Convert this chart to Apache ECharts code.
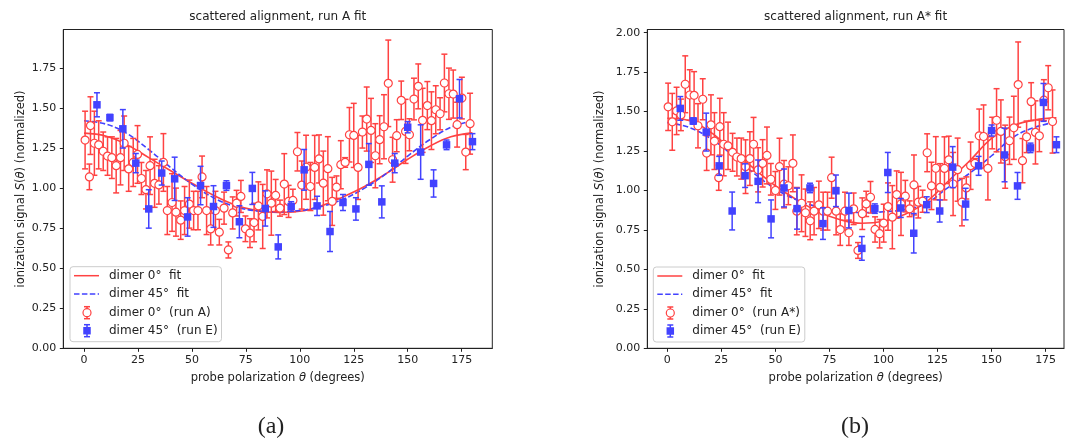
<!DOCTYPE html>
<html>
<head>
<meta charset="utf-8">
<script src="https://cdn.jsdelivr.net/npm/echarts@6/dist/echarts.min.js"></script>
<style>
  html, body { margin: 0; padding: 0; background: #ffffff; }
  #chart { width: 1065px; height: 444px; }
</style>
</head>
<body>
<div id="chart"></div>
<script>
// ---------------- data ----------------
const xTicks = [0, 25, 50, 75, 100, 125, 150, 175];
const yTicksA = [0, 0.25, 0.5, 0.75, 1.0, 1.25, 1.5, 1.75];
const yTicksB = [0, 0.25, 0.5, 0.75, 1.0, 1.25, 1.5, 1.75, 2.0];

// dimer 0 deg, run A
const runA_theta = [0.5, 2.5, 3.0, 4.8, 6.8, 8.9, 10.9, 12.9, 14.9, 16.9, 18.6, 20.7, 22.8, 24.8, 26.6, 28.7,
  30.6, 32.7, 34.7, 36.8, 38.6, 40.8, 42.6, 44.8, 46.6, 48.8, 50.8, 52.8, 54.7, 56.8, 58.7, 60.9, 62.7, 64.9,
  66.9, 68.9, 70.7, 72.7, 74.8, 76.9, 78.8, 80.8, 82.8, 84.8, 86.8, 88.8, 90.8, 92.8, 94.8, 96.8, 98.9, 100.9,
  102.9, 104.9, 106.9, 108.9, 110.9, 113.0, 115.0, 117.0, 119.0, 121.0, 123.0, 125.0, 127.0, 129.0, 131.0,
  133.0, 135.0, 137.0, 139.0, 141.0, 143.0, 144.9, 147.0, 149.0, 150.8, 152.9, 154.9, 156.9, 159.1, 161.0,
  163.0, 165.0, 167.0, 169.1, 171.1, 172.9, 175.1, 176.9, 178.9];
const runA_signal = [1.30, 1.07, 1.39, 1.28, 1.27, 1.23, 1.20, 1.19, 1.14, 1.19, 1.28, 1.12, 1.16, 1.21, 1.06, 0.99,
  1.14, 1.03, 1.02, 1.16, 0.86, 0.91, 0.85, 0.80, 0.86, 0.90, 0.86, 0.86, 1.07, 0.86, 0.745, 0.86, 0.725, 0.875,
  0.614, 0.845, 0.906, 0.948, 0.746, 0.719, 0.785, 0.889, 0.823, 0.964, 0.906, 0.954, 0.875, 1.025, 0.917, 0.923, 1.227, 1.019,
  1.13, 1.010, 1.129, 1.182, 1.031, 1.121, 0.917, 1.006, 1.146, 1.160, 1.333, 1.329, 1.129, 1.350, 1.431,
  1.360, 1.202, 1.302, 1.383, 1.654, 1.177, 1.327, 1.548, 1.354, 1.333, 1.556, 1.635, 1.423, 1.515, 1.421,
  1.489, 1.464, 1.656, 1.589, 1.587, 1.396, 1.562, 1.225, 1.402];
const runA_err = [0.18, 0.08, 0.18, 0.20, 0.15, 0.12, 0.12, 0.13, 0.17, 0.17, 0.17, 0.14, 0.15, 0.18, 0.10, 0.12,
  0.18, 0.15, 0.12, 0.18, 0.15, 0.18, 0.15, 0.12, 0.15, 0.15, 0.12, 0.12, 0.13, 0.15, 0.10, 0.12, 0.08, 0.10,
  0.05, 0.10, 0.08, 0.10, 0.08, 0.09, 0.12, 0.15, 0.20, 0.15, 0.20, 0.10, 0.05, 0.19, 0.10, 0.07, 0.12, 0.15,
  0.20, 0.15, 0.20, 0.15, 0.20, 0.20, 0.15, 0.07, 0.15, 0.03, 0.17, 0.20, 0.20, 0.10, 0.20,
  0.20, 0.20, 0.15, 0.20, 0.27, 0.14, 0.10, 0.12, 0.20, 0.10, 0.13, 0.14, 0.20, 0.15, 0.18,
  0.15, 0.10, 0.18, 0.16, 0.15, 0.14, 0.13, 0.11, 0.19];

// dimer 0 deg, run A*
const runAs_theta = [21.8, 23.8, 24.3, 26.1, 28.1, 30.2, 32.2, 34.2, 36.2, 38.2, 39.9, 42.0, 44.1, 46.1, 47.9, 50.0,
  51.9, 54.0, 56.0, 58.1, 59.9, 62.1, 63.9, 66.1, 67.9, 70.1, 72.1, 74.1, 76.0, 78.1, 80.0, 82.2, 84.0, 86.2,
  88.2, 90.2, 92.0, 94.0, 96.1, 98.2, 100.1, 102.1, 104.1, 106.1, 108.1, 110.1, 112.1, 114.1, 116.1, 118.1, 120.2, 122.2,
  124.2, 126.2, 128.2, 130.2, 132.2, 134.3, 136.3, 138.3, 140.3, 142.3, 144.3, 146.3, 148.3, 150.3, 152.3,
  154.3, 156.3, 158.3, 160.3, 162.3, 164.3, 166.2, 168.3, 170.3, 172.1, 174.2, 176.2, 178.2, 0.4, 2.3,
  4.3, 6.3, 8.3, 10.4, 12.4, 14.2, 16.4, 18.2, 20.2];
const runAs_signal = [1.313, 1.081, 1.404, 1.293, 1.283, 1.242, 1.212, 1.202, 1.151, 1.202, 1.293, 1.131, 1.172, 1.222, 1.071, 1.000,
  1.151, 1.040, 1.030, 1.172, 0.869, 0.919, 0.859, 0.808, 0.869, 0.909, 0.869, 0.869, 1.081, 0.869, 0.752, 0.869, 0.732, 0.884,
  0.620, 0.853, 0.915, 0.957, 0.753, 0.726, 0.793, 0.898, 0.831, 0.974, 0.915, 0.964, 0.884, 1.035, 0.926, 0.932, 1.239, 1.029,
  1.141, 1.020, 1.140, 1.194, 1.041, 1.132, 0.926, 1.016, 1.157, 1.172, 1.346, 1.342, 1.140, 1.364, 1.445,
  1.374, 1.214, 1.315, 1.397, 1.671, 1.189, 1.340, 1.563, 1.368, 1.346, 1.572, 1.651, 1.437, 1.530, 1.435,
  1.504, 1.479, 1.673, 1.605, 1.603, 1.410, 1.578, 1.237, 1.416];
const runAs_err = [0.18, 0.08, 0.18, 0.20, 0.15, 0.12, 0.12, 0.13, 0.17, 0.17, 0.17, 0.14, 0.15, 0.18, 0.10, 0.12,
  0.18, 0.15, 0.12, 0.18, 0.15, 0.18, 0.15, 0.12, 0.15, 0.15, 0.12, 0.12, 0.13, 0.15, 0.10, 0.12, 0.08, 0.10,
  0.05, 0.10, 0.08, 0.10, 0.08, 0.09, 0.12, 0.15, 0.20, 0.15, 0.20, 0.10, 0.05, 0.19, 0.10, 0.07, 0.12, 0.15,
  0.20, 0.15, 0.20, 0.15, 0.20, 0.20, 0.15, 0.07, 0.15, 0.03, 0.17, 0.20, 0.20, 0.10, 0.20,
  0.20, 0.20, 0.15, 0.20, 0.27, 0.14, 0.10, 0.12, 0.20, 0.10, 0.13, 0.14, 0.20, 0.15, 0.18,
  0.15, 0.10, 0.18, 0.16, 0.15, 0.14, 0.13, 0.11, 0.19];

// dimer 45 deg, run E
const runE_theta = [6, 12, 18, 24, 30, 36, 42, 48, 54, 60, 66, 72, 78, 84, 90, 96, 102, 108, 114, 120,
  126, 132, 138, 144, 150, 156, 162, 168, 174, 180];
const runE_signal = [1.52, 1.44, 1.37, 1.156, 0.87, 1.094, 1.058, 0.82, 1.016, 0.885, 1.016, 0.79, 0.998, 0.873, 0.633,
  0.885, 1.114, 0.889, 0.729, 0.91, 0.87, 1.148, 0.914, 1.156, 1.38, 1.225, 1.029, 1.27, 1.558, 1.29];
const runE_err = [0.075, 0.02, 0.12, 0.06, 0.12, 0.075, 0.135, 0.12, 0.12, 0.13, 0.03, 0.10, 0.10, 0.11, 0.075,
  0.03, 0.127, 0.06, 0.125, 0.05, 0.07, 0.13, 0.10, 0.06, 0.035, 0.17, 0.085, 0.03, 0.12, 0.05];

// fitted curves, sampled every 10 degrees
const fitTheta = [0, 10, 20, 30, 40, 50, 60, 70, 80, 90, 100, 110, 120, 130, 140, 150, 160, 170, 180];
const fitA_dimer0 = [1.343, 1.325, 1.27, 1.19, 1.11, 1.03, 0.955, 0.895, 0.86, 0.848, 0.855, 0.89, 0.945, 1.01, 1.09, 1.18, 1.26, 1.32, 1.345];
const fitA_dimer45 = [1.42, 1.40, 1.34, 1.24, 1.13, 1.025, 0.94, 0.885, 0.858, 0.852, 0.86, 0.885, 0.93, 1.0, 1.09, 1.2, 1.30, 1.38, 1.42];
const fitB_dimer0 = [1.458, 1.443, 1.37, 1.255, 1.14, 1.03, 0.94, 0.865, 0.815, 0.792, 0.805, 0.85, 0.93, 1.06, 1.19, 1.33, 1.41, 1.447, 1.46];
const fitB_dimer45 = [1.43, 1.40, 1.33, 1.225, 1.11, 1.01, 0.94, 0.895, 0.868, 0.86, 0.865, 0.88, 0.92, 1.02, 1.11, 1.22, 1.337, 1.40, 1.435];

// ---------------- styling ----------------
const RED = '#ff4242';
const BLUE = '#4242ff';
const INK = '#222222';
const FONT = '"DejaVu Sans", sans-serif';

const zip2 = (xs, ys) => xs.map((x, i) => [x, ys[i]]);
const zip3 = (xs, ys, es) => xs.map((x, i) => [x, ys[i], es[i]]);

function errorBars(color) {
  return function (params, api) {
    const x = api.value(0), y = api.value(1), e = api.value(2);
    const top = api.coord([x, y + e]);
    const bot = api.coord([x, y - e]);
    const cap = 3;
    const style = { stroke: color, lineWidth: 1.5 };
    return {
      type: 'group',
      children: [
        { type: 'line', shape: { x1: top[0], y1: top[1], x2: bot[0], y2: bot[1] }, style },
        { type: 'line', shape: { x1: top[0] - cap, y1: top[1], x2: top[0] + cap, y2: top[1] }, style },
        { type: 'line', shape: { x1: bot[0] - cap, y1: bot[1], x2: bot[0] + cap, y2: bot[1] }, style }
      ]
    };
  };
}

const grids = [
  { left: 63.3, top: 29.5, width: 429, height: 318.8 },
  { left: 647.3, top: 29.5, width: 416.7, height: 318.8 }
];

function xAxis(gridIndex, min, max) {
  return {
    type: 'value', gridIndex, min, max,
    name: 'probe polarization {i|θ} (degrees)',
    nameLocation: 'middle', nameGap: 24,
    nameTextStyle: { fontFamily: FONT, fontSize: 11.5, color: INK,
      rich: { i: { fontFamily: FONT, fontSize: 11.5, color: INK, fontStyle: 'italic' } } },
    axisLine: { show: true, onZero: false, lineStyle: { color: INK, width: 1 } },
    axisTick: { show: true, length: 3.5, customValues: xTicks, lineStyle: { color: INK, width: 1 } },
    axisLabel: { customValues: xTicks, margin: 6, fontFamily: FONT, fontSize: 11, color: INK },
    splitLine: { show: false }
  };
}

function yAxis(gridIndex, max, ticks, gap) {
  return {
    type: 'value', gridIndex, min: 0, max,
    name: 'ionization signal {i|S}({i|θ}) (normalized)',
    nameLocation: 'middle', nameGap: gap, nameRotate: 90,
    nameTextStyle: { fontFamily: FONT, fontSize: 11.5, color: INK,
      rich: { i: { fontFamily: FONT, fontSize: 11.5, color: INK, fontStyle: 'italic' } } },
    axisLine: { show: true, onZero: false, lineStyle: { color: INK, width: 1 } },
    axisTick: { show: true, length: 3.5, customValues: ticks, lineStyle: { color: INK, width: 1 } },
    axisLabel: { customValues: ticks, margin: 7, fontFamily: FONT, fontSize: 11, color: INK,
      formatter: v => v.toFixed(2) },
    splitLine: { show: false }
  };
}

function panelSeries(idx, fit0, fit45, red) {
  const ax = { xAxisIndex: idx, yAxisIndex: idx };
  return [
    Object.assign({ type: 'line', data: zip2(fitTheta, fit0), smooth: 0.4, showSymbol: false, silent: true,
      lineStyle: { color: RED, width: 1.6 }, z: 2 }, ax),
    Object.assign({ type: 'line', data: zip2(fitTheta, fit45), smooth: 0.4, showSymbol: false, silent: true,
      lineStyle: { color: BLUE, width: 1.6, type: [5.5, 2.4] }, z: 2 }, ax),
    Object.assign({ type: 'custom', renderItem: errorBars(RED), data: zip3(red[0], red[1], red[2]),
      encode: { x: 0, y: 1 }, z: 3 }, ax),
    Object.assign({ type: 'scatter', data: zip2(red[0], red[1]), symbol: 'circle', symbolSize: 8,
      itemStyle: { color: '#ffffff', borderColor: RED, borderWidth: 1.2, opacity: 1 }, z: 4 }, ax),
    Object.assign({ type: 'custom', renderItem: errorBars(BLUE), data: zip3(runE_theta, runE_signal, runE_err),
      encode: { x: 0, y: 1 }, z: 5 }, ax),
    Object.assign({ type: 'scatter', data: zip2(runE_theta, runE_signal), symbol: 'rect', symbolSize: 7.5,
      itemStyle: { color: BLUE, opacity: 1 }, z: 6 }, ax)
  ];
}

function legendBox(x, y, labels) {
  const rows = [y + 9, y + 27.3, y + 46, y + 64];
  const mx = x + 17;
  const txt = (ty, s) => ({ type: 'text', x: x + 39, y: ty, z: 101,
    style: { text: s, font: '12px ' + FONT, fill: INK, align: 'left', verticalAlign: 'middle',
      textAlign: 'left', textVerticalAlign: 'middle' } });
  const ln = (x1, y1, x2, y2, stroke, dash) => ({ type: 'line', z: 101,
    shape: { x1, y1, x2, y2 }, style: { stroke, lineWidth: 1.5, lineDash: dash || null } });
  return [
    { type: 'rect', z: 100, shape: { x: x, y: y, width: 151.5, height: 75, r: 3 },
      style: { fill: 'rgba(255,255,255,0.8)', stroke: '#cccccc', lineWidth: 1 } },
    ln(x + 4, rows[0], x + 29, rows[0], RED),
    ln(x + 4, rows[1], x + 29, rows[1], BLUE, [5.5, 2.4]),
    ln(mx, rows[2] - 6, mx, rows[2] + 6, RED), ln(mx - 3, rows[2] - 6, mx + 3, rows[2] - 6, RED),
    ln(mx - 3, rows[2] + 6, mx + 3, rows[2] + 6, RED),
    { type: 'circle', z: 102, shape: { cx: mx, cy: rows[2], r: 4 },
      style: { fill: '#ffffff', stroke: RED, lineWidth: 1.2 } },
    ln(mx, rows[3] - 6, mx, rows[3] + 6, BLUE), ln(mx - 3, rows[3] - 6, mx + 3, rows[3] - 6, BLUE),
    ln(mx - 3, rows[3] + 6, mx + 3, rows[3] + 6, BLUE),
    { type: 'rect', z: 102, shape: { x: mx - 3.75, y: rows[3] - 3.75, width: 7.5, height: 7.5 },
      style: { fill: BLUE } },
    txt(rows[0], labels[0]), txt(rows[1], labels[1]), txt(rows[2], labels[2]), txt(rows[3], labels[3])
  ];
}

function label(x, y, s, font) {
  return { type: 'text', x, y, z: 100,
    style: { text: s, font, fill: INK, align: 'center', verticalAlign: 'middle',
      textAlign: 'center', textVerticalAlign: 'middle' } };
}

const chart = echarts.init(document.getElementById('chart'), null, { renderer: 'canvas' });
chart.setOption({
  animation: false,
  backgroundColor: '#ffffff',
  grid: grids.map(g => Object.assign({ show: true, borderColor: INK, borderWidth: 1,
    backgroundColor: 'transparent' }, g)),
  xAxis: [xAxis(0, -9.6, 189.2), xAxis(1, -9.25, 183.5)],
  yAxis: [yAxis(0, 1.99, yTicksA, 36), yAxis(1, 2.02, yTicksB, 41)],
  series: [
    ...panelSeries(0, fitA_dimer0, fitA_dimer45, [runA_theta, runA_signal, runA_err]),
    ...panelSeries(1, fitB_dimer0, fitB_dimer45, [runAs_theta, runAs_signal, runAs_err])
  ],
  graphic: [
    label(277.8, 17, 'scattered alignment, run A fit', '12px ' + FONT),
    label(855.6, 17, 'scattered alignment, run A* fit', '12px ' + FONT),
    label(271, 427, '(a)', '24px "Liberation Serif", serif'),
    label(855, 427, '(b)', '24px "Liberation Serif", serif'),
    ...legendBox(70, 266.7, ['dimer 0°  fit', 'dimer 45°  fit', 'dimer 0°  (run A)', 'dimer 45°  (run E)']),
    ...legendBox(653.3, 267, ['dimer 0°  fit', 'dimer 45°  fit', 'dimer 0°  (run A*)', 'dimer 45°  (run E)'])
  ]
});
</script>
</body>
</html>
